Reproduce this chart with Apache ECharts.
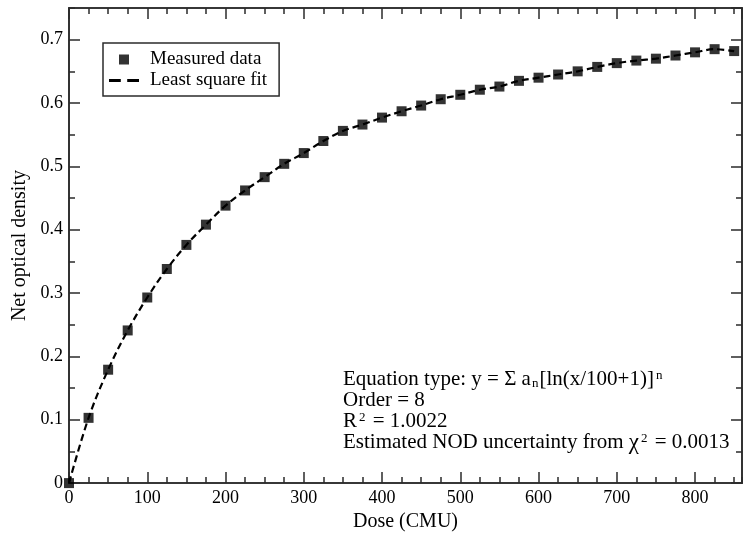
<!DOCTYPE html>
<html>
<head>
<meta charset="utf-8">
<script src="https://cdn.jsdelivr.net/npm/echarts@6/dist/echarts.min.js"></script>
<style>
  html, body { margin: 0; padding: 0; background: #fff; }
  #chart { width: 750px; height: 537px; }
</style>
</head>
<body>
<div id="chart"></div>
<script>
// Net optical density vs dose, measured every 25 CMU
const dose = [0, 25, 50, 75, 100, 125, 150, 175, 200, 225, 250, 275, 300, 325, 350, 375, 400, 425,
  450, 475, 500, 525, 550, 575, 600, 625, 650, 675, 700, 725, 750, 775, 800, 825, 850];
const nod = [0, 0.103, 0.179, 0.241, 0.293, 0.338, 0.376, 0.408, 0.438, 0.462, 0.483, 0.504, 0.521,
  0.540, 0.556, 0.566, 0.577, 0.587, 0.596, 0.606, 0.613, 0.621, 0.626, 0.635, 0.640, 0.645, 0.650,
  0.657, 0.663, 0.667, 0.670, 0.675, 0.680, 0.685, 0.682];

const seriesNames = ['Measured data', 'Least square fit'];
const xRange = [0, 860];
const yRange = [0, 0.75];
const xName = 'Dose (CMU)';
const yName = 'Net optical density';

const FONT = '"Liberation Serif", "DejaVu Serif", serif';
const INK = '#000';
const FRAME = '#2b2b2b';

const points = dose.map((d, i) => [d, nod[i]]);

// frame axes: one with major ticks and one carrying the minor ticks on each side
function xAx(pos, interval, len, labels) {
  return {
    type: 'value', position: pos, min: xRange[0], max: xRange[1], interval: interval,
    axisLine: { show: true, onZero: false, lineStyle: { color: FRAME, width: 1.6 } },
    axisTick: { show: true, inside: true, length: len, lineStyle: { color: FRAME, width: 1.5 } },
    axisLabel: labels ? { show: true, color: INK, fontFamily: FONT, fontSize: 18, margin: 6, showMaxLabel: false } : { show: false },
    splitLine: { show: false },
    name: labels ? xName : '', nameLocation: 'middle', nameGap: 24,
    nameTextStyle: { color: INK, fontFamily: FONT, fontSize: 20 }
  };
}
function yAx(pos, interval, len, labels) {
  return {
    type: 'value', position: pos, min: yRange[0], max: yRange[1], interval: interval,
    axisLine: { show: true, onZero: false, lineStyle: { color: FRAME, width: 1.6 } },
    axisTick: { show: true, inside: true, length: len, lineStyle: { color: FRAME, width: 1.5 } },
    axisLabel: labels ? { show: true, color: INK, fontFamily: FONT, fontSize: 18, margin: 6, showMaxLabel: false } : { show: false },
    splitLine: { show: false },
    name: labels ? yName : '', nameLocation: 'middle', nameGap: 37, nameRotate: 90,
    nameTextStyle: { color: INK, fontFamily: FONT, fontSize: 20 }
  };
}

const chart = echarts.init(document.getElementById('chart'), null, { renderer: 'canvas' });

chart.setOption({
  animation: false,
  backgroundColor: '#fff',
  grid: { left: 69, right: 8, top: 8, bottom: 47, containLabel: false },
  xAxis: [
    xAx('bottom', 100, 11, true),
    xAx('bottom', 25, 6, false),
    xAx('top', 100, 11, false),
    xAx('top', 25, 6, false)
  ],
  yAxis: [
    yAx('left', 0.1, 11, true),
    yAx('left', 0.05, 6, false),
    yAx('right', 0.1, 11, false),
    yAx('right', 0.05, 6, false)
  ],
  legend: {
    orient: 'vertical', left: 103, top: 43,
    padding: [7, 12, 6, 6], itemGap: 2,
    itemWidth: 30, itemHeight: 10,
    borderColor: FRAME, borderWidth: 1.5,
    backgroundColor: '#fff',
    textStyle: { color: INK, fontFamily: FONT, fontSize: 19, padding: [0, 0, 0, 6] },
    data: [
      { name: seriesNames[0], icon: 'path://M0,0h10v10h-10z' },
      { name: seriesNames[1], icon: 'path://M0,0h11v3h-11z M17,0h11v3h-11z' }
    ]
  },
  series: [
    {
      name: seriesNames[1], type: 'line', data: points,
      smooth: 0.35, symbol: 'none', z: 2,
      lineStyle: { color: INK, width: 2.2, type: [7, 4] },
      itemStyle: { color: INK }
    },
    {
      name: seriesNames[0], type: 'scatter', data: points,
      symbol: 'rect', symbolSize: 10, clip: false, z: 3,
      itemStyle: { color: '#000' }
    }
  ],
  graphic: [
    {
      type: 'text', left: 343, top: 369, z: 10,
      style: {
        fill: INK, font: '21px ' + FONT,
        text: '{t|Equation type: y = Σ a}{sub|n}{t|[ln(x/100+1)]}{sup|n}\n' +
              '{t|Order = 8}\n' +
              '{t|R}{sup|2}{t| = 1.0022}\n' +
              '{t|Estimated NOD uncertainty from }{chi|χ}{sup|2}{t| = 0.0013}',
        rich: {
          t: { fontFamily: FONT, fontSize: 21, lineHeight: 21, fill: INK },
          chi: { fontFamily: FONT, fontSize: 23, lineHeight: 21, fill: INK },
          sup: { fontFamily: FONT, fontSize: 13, lineHeight: 13, verticalAlign: 'top', padding: [0, 2, 0, 2], fill: INK },
          sub: { fontFamily: FONT, fontSize: 13, lineHeight: 13, verticalAlign: 'bottom', padding: [0, 1, 0, 1], fill: INK }
        }
      }
    }
  ]
});
</script>
</body>
</html>
